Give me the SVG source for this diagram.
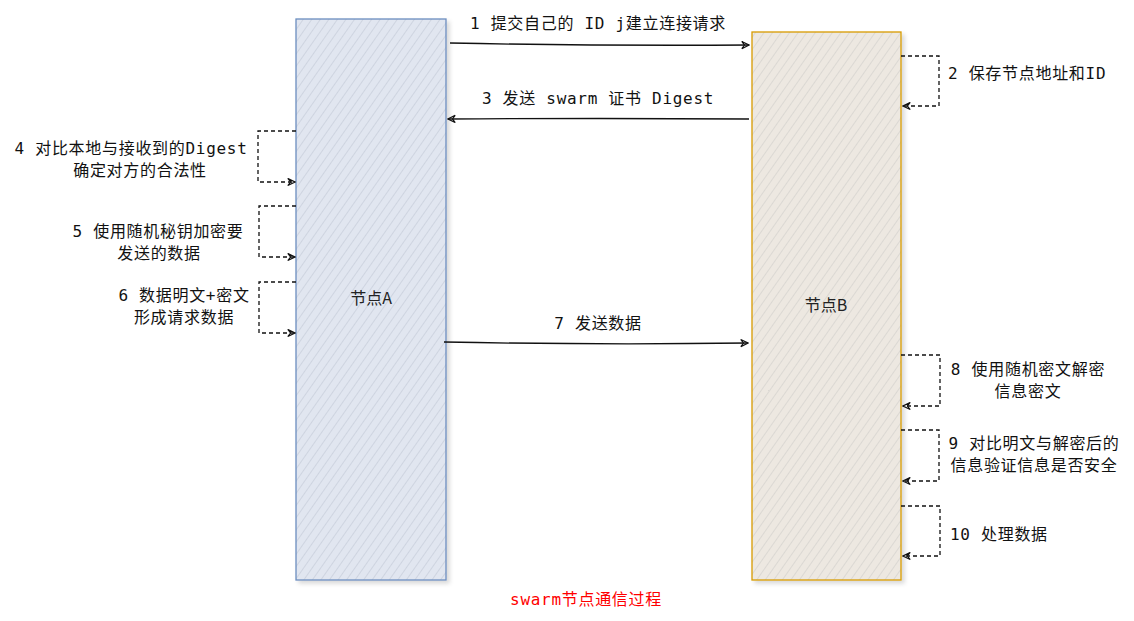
<svg xmlns="http://www.w3.org/2000/svg" width="1134" height="621" viewBox="0 0 1134 621">
<style>
.lbl{font-family:"DejaVu Sans Mono","Noto Sans CJK SC",monospace;font-size:16px;letter-spacing:0.7px;fill:#111}
.node{font-family:"Noto Sans CJK SC","Liberation Sans",sans-serif;font-size:16px;fill:#222}
.solid{fill:none;stroke:#111;stroke-width:1.3}
.dash{fill:none;stroke:#111;stroke-width:1.3;stroke-dasharray:4 3}
</style>
<defs>
<pattern id="hA" width="7" height="7" patternUnits="userSpaceOnUse" patternTransform="rotate(35)">
<rect width="7" height="7" fill="#e1e6f0"/>
<line x1="0" y1="0" x2="0" y2="7" stroke="#c8cfdb" stroke-width="1.5"/>
</pattern>
<pattern id="hB" width="7" height="7" patternUnits="userSpaceOnUse" patternTransform="rotate(35)">
<rect width="7" height="7" fill="#ede8e1"/>
<line x1="0" y1="0" x2="0" y2="7" stroke="#d6d3cf" stroke-width="1.5"/>
</pattern>
<filter id="sh" x="-10%" y="-10%" width="130%" height="130%">
<feDropShadow dx="3" dy="3" stdDeviation="2" flood-color="#000" flood-opacity="0.15"/>
</filter>
<marker id="ar" viewBox="0 0 10 10" refX="9" refY="5" markerWidth="9" markerHeight="9" orient="auto" markerUnits="userSpaceOnUse">
<path d="M1,1 L9,5 L1,9 L4,5 Z" fill="none" stroke="#111" stroke-width="1.3"/>
</marker>
</defs>
<rect width="1134" height="621" fill="#fff"/>
<g id="nodeA">
<rect x="296" y="19" width="150" height="561" fill="url(#hA)" stroke="#6c8ebf" stroke-width="1.3" filter="url(#sh)"/>
<text class="node" x="371" y="304" text-anchor="middle">节点A</text>
</g>
<g id="nodeB">
<rect x="752" y="32" width="149" height="548" fill="url(#hB)" stroke="#d79b00" stroke-width="1.3" filter="url(#sh)"/>
<text class="node" x="826" y="311" text-anchor="middle">节点B</text>
</g>
<g id="connectors">
<path class="solid" d="M450,43 Q600,46 749,45" marker-end="url(#ar)"/>
<path class="solid" d="M749,119 Q600,118 448,119" marker-end="url(#ar)"/>
<path class="solid" d="M444,342 Q600,345 748,343" marker-end="url(#ar)"/>
<path class="dash" d="M296,131 L258,131 L258,182 L295,182" marker-end="url(#ar)"/>
<path class="dash" d="M296,206 L259,206 L259,257 L295,257" marker-end="url(#ar)"/>
<path class="dash" d="M296,282 L259,282 L259,333 L295,333" marker-end="url(#ar)"/>
<path class="dash" d="M901,56 L939,56 L939,106 L903,106" marker-end="url(#ar)"/>
<path class="dash" d="M901,355 L940,355 L940,406 L903,406" marker-end="url(#ar)"/>
<path class="dash" d="M901,430 L939,430 L939,481 L903,481" marker-end="url(#ar)"/>
<path class="dash" d="M901,506 L940,506 L940,556 L903,556" marker-end="url(#ar)"/>
</g>
<g id="labels">
<text class="lbl" x="598" y="29" text-anchor="middle">1 提交自己的 ID j建立连接请求</text>
<text class="lbl" x="598" y="104" text-anchor="middle">3 发送 swarm 证书 Digest</text>
<text class="lbl" x="598" y="329" text-anchor="middle">7 发送数据</text>
<text class="lbl" x="131" y="154" text-anchor="middle">4 对比本地与接收到的Digest</text>
<text class="lbl" x="140" y="176" text-anchor="middle">确定对方的合法性</text>
<text class="lbl" x="158" y="237" text-anchor="middle">5 使用随机秘钥加密要</text>
<text class="lbl" x="159" y="259" text-anchor="middle">发送的数据</text>
<text class="lbl" x="184" y="301" text-anchor="middle">6 数据明文+密文</text>
<text class="lbl" x="184" y="323" text-anchor="middle">形成请求数据</text>
<text class="lbl" x="948" y="79">2 保存节点地址和ID</text>
<text class="lbl" x="1028" y="375" text-anchor="middle">8 使用随机密文解密</text>
<text class="lbl" x="1028" y="397" text-anchor="middle">信息密文</text>
<text class="lbl" x="1034" y="449" text-anchor="middle">9 对比明文与解密后的</text>
<text class="lbl" x="1034" y="471" text-anchor="middle">信息验证信息是否安全</text>
<text class="lbl" x="950" y="540">10 处理数据</text>
<text x="586" y="605" text-anchor="middle" style="font-family:'DejaVu Sans Mono','Noto Sans CJK SC',monospace;font-size:16px;letter-spacing:0.7px;fill:#ff0000">swarm节点通信过程</text>
</g>
</svg>
